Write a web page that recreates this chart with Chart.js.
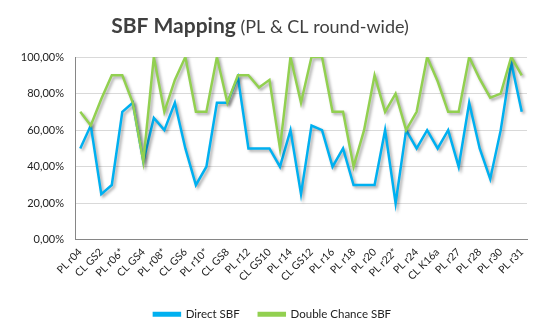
<!DOCTYPE html>
<html>
<head>
<meta charset="utf-8">
<script src="https://cdn.jsdelivr.net/npm/chart.js@4"></script>
<style>
  body { margin: 0; background: #fff; }
  #wrap { width: 545px; height: 335px; position: relative; }
</style>
</head>
<body>
<div id="wrap"><canvas id="line-chart" width="545" height="335"></canvas></div>
<script>
// rounds (only every other one is labelled on the axis)
let rounds = ["PL r04", "PL r05", "CL GS2", "CL GS3", "PL r06*", "PL r07", "CL GS4", "CL GS5",
    "PL r08*", "PL r09", "CL GS6", "CL GS7", "PL r10*", "PL r11", "CL GS8", "CL GS9",
    "PL r12", "PL r13", "CL GS10", "CL GS11", "PL r14", "PL r15", "CL GS12", "CL GS13",
    "PL r16", "PL r17", "PL r18", "PL r19", "PL r20", "PL r21", "PL r22*", "PL r23",
    "PL r24", "PL r25", "CL K16a", "PL r26", "PL r27", "CL K16b", "PL r28", "PL r29",
    "PL r30", "CL F", "PL r31"];

// percentages
let direct_sbf = [50, 62.5, 25, 30, 70, 75, 42.9, 66.7, 60, 75, 50, 30, 40, 75, 75, 88.9,
    50, 50, 50, 40, 60, 25, 62.5, 60, 40, 50, 30, 30, 30, 60, 20, 60,
    50, 60, 50, 60, 40, 75, 50, 33.3, 60, 97, 70];
let double_chance_sbf = [70, 62.5, 77, 90, 90, 75, 42.9, 100, 70, 87.5, 100, 70, 70, 100, 75, 90,
    90, 83.3, 87.5, 50, 100, 75, 100, 100, 70, 70, 40, 60, 90, 70, 80, 60,
    70, 100, 86.7, 70, 70, 100, 88, 77.8, 80, 100, 90];

let y_ticks = [0, 20, 40, 60, 80, 100];

const FONT = "Lato, 'Noto Sans', sans-serif";

// title with a bold part and a plain part
const titlePlugin = {
    id: 'mixedTitle',
    afterDraw(chart) {
        let ctx = chart.ctx;
        ctx.save();
        ctx.fillStyle = '#404040';
        ctx.textBaseline = 'alphabetic';
        ctx.font = "bold 21px " + FONT;
        let w1 = ctx.measureText("SBF Mapping").width;
        ctx.font = "18px " + FONT;
        let w2 = ctx.measureText(" (PL & CL round-wide)").width;
        let x = 260 - (w1 + w2) / 2;
        ctx.font = "bold 21px " + FONT;
        ctx.fillText("SBF Mapping", x, 33);
        ctx.font = "18px " + FONT;
        ctx.fillText(" (PL & CL round-wide)", x + w1, 33);
        ctx.restore();
    }
};

// soft drop shadow under the lines, like the spreadsheet chart
const shadowPlugin = {
    id: 'lineShadow',
    beforeDatasetsDraw(chart) {
        let ctx = chart.ctx;
        ctx.save();
        ctx.shadowColor = 'rgba(0,0,0,0.35)';
        ctx.shadowBlur = 3;
        ctx.shadowOffsetX = 2;
        ctx.shadowOffsetY = 2;
    },
    afterDatasetsDraw(chart) {
        chart.ctx.restore();
    }
};

let line_canvas = document.getElementById("line-chart").getContext("2d");

let line_chart = new Chart(line_canvas, {
    type: 'line',
    data: {
        labels: rounds,
        datasets: [{
            label: 'Direct SBF',
            data: direct_sbf,
            borderColor: '#00B0F0',
            backgroundColor: '#00B0F0',
            borderWidth: 2.5,
            pointRadius: 0,
            tension: 0,
            order: 1
        }, {
            label: 'Double Chance SBF',
            data: double_chance_sbf,
            borderColor: '#92D050',
            backgroundColor: '#92D050',
            borderWidth: 2.5,
            pointRadius: 0,
            tension: 0,
            order: 0
        }]
    },
    options: {
        responsive: false,
        animation: false,
        layout: { padding: { top: 57, right: 0, left: 0, bottom: 5 } },
        plugins: {
            title: { display: false },
            tooltip: { enabled: false },
            legend: {
                position: 'bottom',
                labels: {
                    boxWidth: 26,
                    boxHeight: 2.5,
                    padding: 19,
                    color: '#222',
                    font: { family: FONT, size: 11.5 },
                    sort: (a, b) => a.datasetIndex - b.datasetIndex
                }
            }
        },
        scales: {
            x: {
                offset: true,
                grid: { display: false, drawTicks: false },
                border: { color: '#868686', width: 1 },
                ticks: {
                    autoSkip: false,
                    maxRotation: 45,
                    minRotation: 45,
                    padding: 6,
                    color: '#222',
                    font: { family: FONT, size: 10.5 },
                    callback: function (value, index) {
                        return index % 2 === 0 ? rounds[index] : '';
                    }
                }
            },
            y: {
                min: 0,
                max: 100,
                afterBuildTicks: function (scale) {
                    scale.ticks = y_ticks.map(v => ({ value: v }));
                },
                afterFit: function (scale) { scale.width = 75; },
                grid: { color: '#d9d9d9', drawTicks: false },
                border: { color: '#868686', width: 1 },
                ticks: {
                    padding: 11,
                    color: '#222',
                    font: { family: FONT, size: 11 },
                    callback: function (value) {
                        return value.toFixed(2).replace('.', ',') + '%';
                    }
                }
            },
            // empty strip on the right so the plot ends where the original does
            y2: {
                position: 'right',
                display: true,
                grid: { display: false, drawTicks: false },
                border: { display: false },
                ticks: { display: false },
                afterFit: function (scale) { scale.width = 18; }
            }
        }
    },
    plugins: [titlePlugin, shadowPlugin]
});
</script>
</body>
</html>
